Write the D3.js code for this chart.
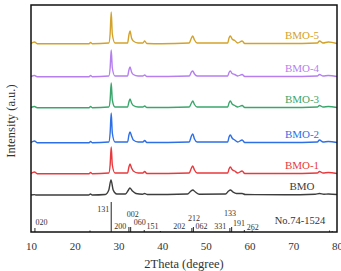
<!DOCTYPE html>
<html>
<head>
<meta charset="utf-8">
<script src="https://cdn.jsdelivr.net/npm/d3@7"></script>
<style>
  body { margin: 0; background: #fff; }
  svg { display: block; font-family: "Liberation Serif", "DejaVu Serif", serif; }
</style>
</head>
<body>
<svg id="chart" width="341" height="271"></svg>
<script>
// XRD patterns: [2theta, intensity above own baseline]
const names = ['BMO', 'BMO-1', 'BMO-2', 'BMO-3', 'BMO-4', 'BMO-5'];
const colors = ['#3d3d3d', '#e8393d', '#2d6fe6', '#3ba66c', '#b57ff0', '#d3a22a'];
const offsets = [37, 58, 89, 124, 155, 188];

const bmo = [[10,0],[10.8,0.4],[11.2,0],[23.2,0],[23.6,1],[24,0],[27,0.5],[27.8,5],[28.3,15],[28.8,5],[29.6,1],[31.6,1],[32.3,5],[32.6,7],[33.2,4],[34,1.5],[35.5,0.8],[36,1.5],[36.6,0.5],[45.8,1],[46.6,4],[47,5],[47.6,3],[48.5,0.8],[54.5,1],[55.2,4],[55.6,5],[56.2,3],[57,1.5],[58.3,1.5],[59,0.5],[68,0.3],[75,0.8],[76,1.5],[77,0.8],[78,1],[80,0.5]];
const bmo1 = [[10,0.5],[10.8,2],[11.4,0.3],[23.3,0.3],[23.6,1.5],[24,0.3],[27.8,1],[28.1,9],[28.35,27],[28.6,9],[29.2,1],[32.1,1],[32.4,7],[32.65,10],[33,6],[33.4,3],[34.5,1],[35.6,1],[36,2.5],[36.5,0.5],[46.2,1],[46.7,6],[47,8],[47.4,4],[48,1],[55,1],[55.3,5],[55.6,7],[56,4.5],[56.6,3],[57.3,1],[58.3,3],[58.9,0.5],[68.5,0.5],[75.5,1],[76,2.5],[76.8,1],[78,1.5],[80,0.5]];
const bmo2 = [[10,0.5],[10.8,2],[11.4,0.3],[23.3,0.3],[23.6,1.5],[24,0.3],[27.8,1],[28.1,10],[28.35,30],[28.6,10],[29.2,1],[32.1,1],[32.4,8],[32.65,11],[33,7],[33.4,3],[34.5,1],[35.6,1],[36,2.5],[36.5,0.5],[46.2,1],[46.7,7],[47,9],[47.4,4],[48,1],[55,1],[55.3,6],[55.6,8],[56,5],[56.6,3],[57.3,1],[58.3,3],[58.9,0.5],[68.5,0.5],[75.5,1],[76,3],[76.8,1],[78,1.5],[80,0.5]];
const bmo3 = [[10,0.5],[10.8,1.5],[11.4,0.3],[23.3,0.3],[23.6,1.5],[24,0.3],[27.8,1],[28.1,8],[28.35,25],[28.6,8],[29.2,1],[32.1,1],[32.4,6],[32.65,9],[33,5],[33.4,2.5],[34.5,1],[35.6,1],[36,2],[36.5,0.5],[46.2,1],[46.7,5],[47,7],[47.4,3.5],[48,1],[55,1],[55.3,5],[55.6,7],[56,4],[56.6,2.5],[57.3,1],[58.3,2.5],[58.9,0.5],[68.5,0.5],[75.5,1],[76,2.5],[76.8,1],[78,1.5],[80,0.5]];
const bmo4 = [[10,0.5],[10.8,1.5],[11.4,0.3],[23.3,0.3],[23.6,1.5],[24,0.3],[27.8,1],[28.1,9],[28.35,27],[28.6,9],[29.2,1],[32.1,1],[32.4,7],[32.65,10],[33,5],[33.4,2.5],[34.5,1],[35.6,1],[36,2],[36.5,0.5],[46.2,1],[46.7,5],[47,6],[47.4,3],[48,1],[55,1],[55.3,4.5],[55.6,6],[56,3.5],[56.6,2.5],[57.3,1],[58.3,2.5],[58.9,0.5],[68.5,0.5],[75.5,1],[76,2.5],[76.8,1],[78,1.5],[80,0.5]];
const bmo5 = [[10,0.5],[10.8,2],[11.4,0.3],[23.3,0.3],[23.6,1.5],[24,0.3],[27.8,1],[28.1,10],[28.35,32],[28.6,10],[29.2,1],[32.1,1],[32.4,9],[32.65,13],[33,6],[33.4,3],[34.5,1],[35.6,1],[36,3],[36.5,0.5],[39.8,0.3],[46.2,1],[46.7,6],[47,8],[47.4,4],[48,1],[55,1],[55.3,6],[55.6,8],[56,5],[56.6,3.5],[57.3,1],[58.3,3],[58.9,0.5],[68.5,0.5],[75.5,1],[76,3],[76.8,1],[78,2],[80,0.5]];
const series = [bmo, bmo1, bmo2, bmo3, bmo4, bmo5];

// standard card No.74-1524
const refLines = [[10.9,4],[23.5,1.5],[28.35,30],[32.4,5],[32.8,5],[35.9,2],[39.6,1],[46.8,4],[47.15,5],[55.5,4],[55.9,5],[58.8,2],[60.6,1.5],[78.3,1.5],[78.9,1]];
const refLabels = [['020',12.4,5],['131',26.5,18],['002',33.3,13],['200',30.4,1],['060',34.9,5.5],['151',37.8,1],['202',43.9,1],['212',47.3,9],['062',49.0,1],['331',53.3,1],['133',55.5,14],['191',57.6,4],['262',60.7,0]];
const cardLabel = 'No.74-1524';

const xTicks = [10, 20, 30, 40, 50, 60, 70, 80];

const svg = d3.select('#chart');
const mLeft = 31, mRight = 337, mTop = 5, mBottom = 232;

const x = d3.scaleLinear().domain([10, 80]).range([mLeft, mRight]);
const y = d3.scaleLinear().domain([0, 227]).range([mBottom, mTop]);

// reference card lines
svg.append('g').selectAll('line')
  .data(refLines)
  .join('line')
  .attr('x1', d => x(d[0])).attr('x2', d => x(d[0]))
  .attr('y1', y(0)).attr('y2', d => y(d[1]))
  .attr('stroke', '#222').attr('stroke-width', 1);

svg.append('g').selectAll('text')
  .data(refLabels)
  .join('text')
  .attr('x', d => x(d[1]))
  .attr('y', d => y(d[2]) - 2)
  .attr('font-size', 8)
  .attr('fill', '#333')
  .attr('text-anchor', 'middle')
  .text(d => d[0]);

svg.append('text')
  .attr('x', 300).attr('y', 224)
  .attr('text-anchor', 'middle')
  .attr('font-size', 10.5)
  .attr('fill', '#333')
  .text(cardLabel);

// patterns
const line = d3.line()
  .x(d => x(d[0]))
  .y(d => y(d[1]))
  .curve(d3.curveMonotoneX);

series.forEach((s, i) => {
  const pts = s.map(p => [p[0], p[1] + offsets[i]]);
  svg.append('path')
    .datum(pts)
    .attr('d', line)
    .attr('fill', 'none')
    .attr('stroke', colors[i])
    .attr('stroke-width', 1.4)
    .attr('stroke-linejoin', 'round');

  svg.append('text')
    .attr('x', 302)
    .attr('y', y(offsets[i]) - 5)
    .attr('text-anchor', 'middle')
    .attr('font-size', 11)
    .attr('fill', colors[i])
    .text(names[i]);
});

// frame
svg.append('rect')
  .attr('x', mLeft).attr('y', mTop)
  .attr('width', mRight - mLeft).attr('height', mBottom - mTop)
  .attr('fill', 'none')
  .attr('stroke', '#111')
  .attr('stroke-width', 1.5);

// x axis
const xAxis = svg.append('g')
  .attr('transform', `translate(0,${mBottom})`)
  .call(d3.axisBottom(x).tickValues(xTicks).tickSize(0).tickPadding(10));
xAxis.select('.domain').remove();
xAxis.selectAll('text')
  .attr('font-family', '"Liberation Serif", serif')
  .attr('font-size', 11)
  .attr('fill', '#333');

svg.append('text')
  .attr('x', 184).attr('y', 268)
  .attr('text-anchor', 'middle')
  .attr('font-size', 12.5)
  .attr('fill', '#333')
  .text('2Theta (degree)');

svg.append('text')
  .attr('transform', 'translate(15,121) rotate(-90)')
  .attr('text-anchor', 'middle')
  .attr('font-size', 12.5)
  .attr('fill', '#333')
  .text('Intensity (a.u.)');
</script>
</body>
</html>
